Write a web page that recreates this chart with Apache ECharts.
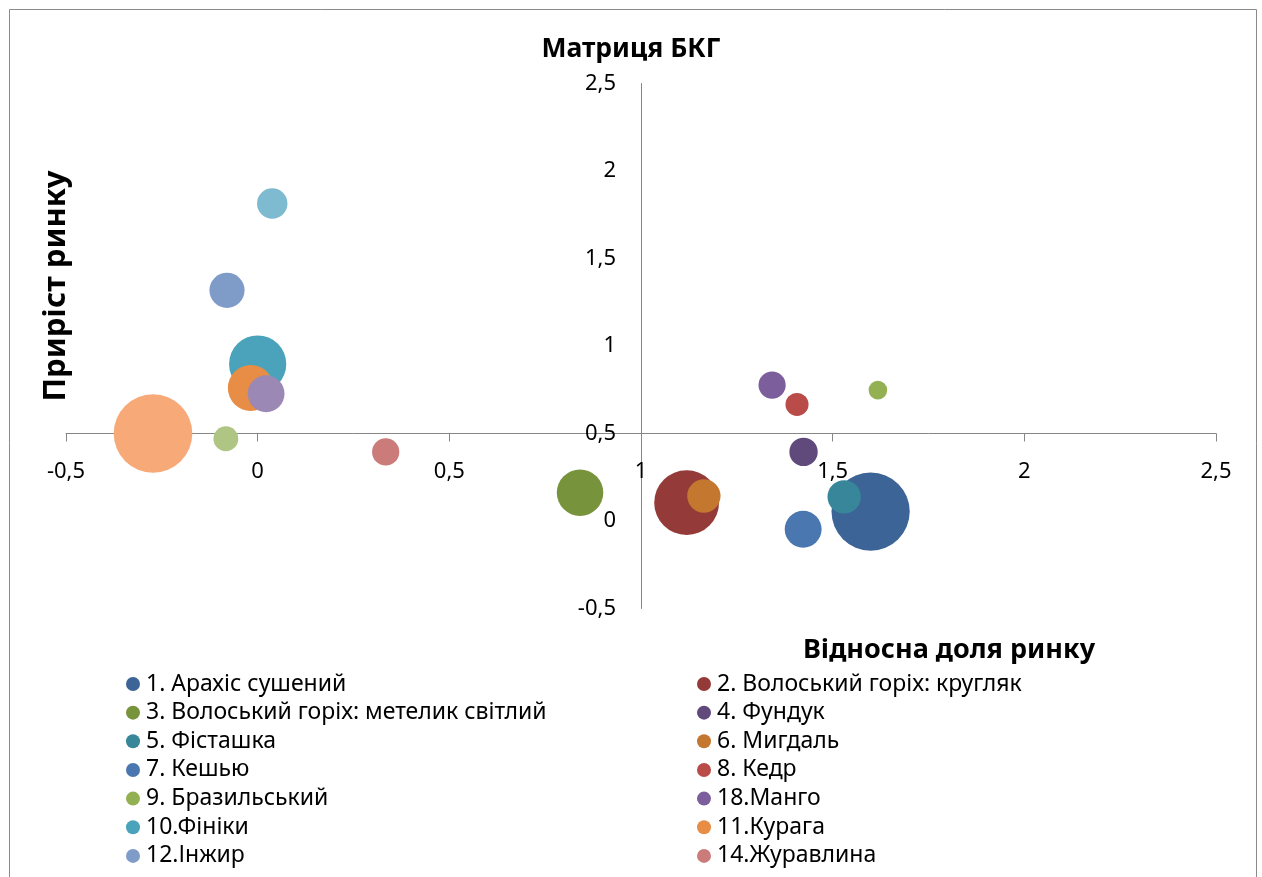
<!DOCTYPE html>
<html>
<head>
<meta charset="utf-8">
<title>Матриця БКГ</title>
<script src="https://cdn.jsdelivr.net/npm/echarts@6/dist/echarts.min.js"></script>
<style>
  html, body { margin: 0; padding: 0; background: #ffffff; }
  #chart { width: 1262px; height: 877px; }
</style>
</head>
<body>
<div id="chart"></div>
<script>
// Products of the BCG matrix (order = drawing order, later ones on top)
const productNames = [
  '1. Арахіс сушений',
  '2. Волоський горіх: кругляк',
  '3. Волоський горіх: метелик світлий',
  '4. Фундук',
  '5. Фісташка',
  '6. Мигдаль',
  '7. Кешью',
  '8. Кедр',
  '9. Бразильський',
  '18.Манго',
  '10.Фініки',
  '11.Курага',
  '12.Інжир',
  '14.Журавлина',
  '13.',
  '15.',
  '16.',
  '17.'
];

// Relative market share (x)
const marketShare = [
  1.599, 1.119, 0.841, 1.424, 1.530, 1.164, 1.423, 1.407, 1.618,
  1.342, 0.000, -0.018, -0.080, 0.334, -0.083, 0.022, 0.038, -0.273
];

// Market growth (y)
const marketGrowth = [
  0.054, 0.105, 0.162, 0.395, 0.138, 0.143, -0.047, 0.666, 0.748,
  0.777, 0.897, 0.760, 1.318, 0.395, 0.470, 0.727, 1.814, 0.500
];

// Bubble size values (sales volume, relative)
const salesVolume = [
  99, 68, 35, 13, 18, 18, 22, 8.6, 5.6,
  12, 53, 34, 20, 12, 10, 22, 15, 100
];

// Axis tick labels
const xTickLabels = ['-0,5', '0', '0,5', '1', '1,5', '2', '2,5'];
const yTickLabels = ['-0,5', '0', '0,5', '1', '1,5', '2', '2,5'];

// Legend entries shown in the two legend columns
const legendLeft  = ['1. Арахіс сушений', '3. Волоський горіх: метелик світлий', '5. Фісташка', '7. Кешью', '9. Бразильський', '10.Фініки', '12.Інжир'];
const legendRight = ['2. Волоський горіх: кругляк', '4. Фундук', '6. Мигдаль', '8. Кедр', '18.Манго', '11.Курага', '14.Журавлина'];

// ---- styling ----
const palette = [
  '#3c6496', '#943b39', '#77933c', '#604a7b', '#37869a', '#c4772f',
  '#4a77af', '#b94b48', '#93b153', '#7b5e9b', '#4aa3ba', '#e88d45',
  '#7f9cc8', '#ca7b7a', '#aec584', '#9c88b4', '#7ebbd0', '#f7aa78'
];
const FONT = '"Noto Sans", "Open Sans", sans-serif';
const AXIS_COLOR = '#868686';

const X_MIN = -0.5, X_MAX = 2.5, X_STEP = 0.5;
const Y_MIN = -0.5, Y_MAX = 2.5, Y_STEP = 0.5;
const X_CROSS = 1;    // vertical axis crosses the horizontal one here
const Y_CROSS = 0.5;  // horizontal axis crosses the vertical one here

const GRID = { left: 66, top: 83.5, width: 1150, height: 525 };
const MAX_BUBBLE = 78.6; // diameter of the largest bubble, px
const maxVolume = Math.max.apply(null, salesVolume);

// shift the axes so they cross at (X_CROSS, Y_CROSS)
const yAxisOffset = -(X_CROSS - X_MIN) / (X_MAX - X_MIN) * GRID.width;
const xAxisOffset = -(Y_CROSS - Y_MIN) / (Y_MAX - Y_MIN) * GRID.height;

const tickLabel = (labels, min, step) => v => labels[Math.round((v - min) / step)] ?? '';

const series = productNames.map((name, i) => ({
  name: name,
  type: 'scatter',
  data: [[marketShare[i], marketGrowth[i], salesVolume[i]]],
  symbol: 'circle',
  symbolSize: val => MAX_BUBBLE * Math.sqrt(val[2] / maxVolume),
  itemStyle: { color: palette[i], opacity: 1 },
  emphasis: { disabled: true },
  silent: true,
  animation: false
}));

const legendBase = {
  orient: 'vertical',
  top: 672,
  padding: 0,
  itemWidth: 14,
  itemHeight: 14,
  itemGap: 4.65,
  icon: 'circle',
  selectedMode: false,
  textStyle: { fontFamily: FONT, fontSize: 23, lineHeight: 24, color: '#000', padding: [0, 0, 0, 1] }
};

const chart = echarts.init(document.getElementById('chart'), null, { renderer: 'canvas' });
chart.setOption({
  backgroundColor: '#ffffff',
  animation: false,
  color: palette,
  title: {
    text: 'Матриця БКГ',
    left: 'center',
    top: 31,
    textStyle: { fontFamily: FONT, fontSize: 26.5, fontWeight: 'bold', color: '#000' }
  },
  grid: {
    left: GRID.left,
    top: GRID.top,
    width: GRID.width,
    height: GRID.height,
    containLabel: false
  },
  xAxis: {
    type: 'value',
    min: X_MIN,
    max: X_MAX,
    interval: X_STEP,
    position: 'bottom',
    offset: xAxisOffset,
    axisLine: { show: true, onZero: false, lineStyle: { color: AXIS_COLOR, width: 1 } },
    axisTick: { show: true, length: 8, lineStyle: { color: AXIS_COLOR, width: 1 } },
    splitLine: { show: false },
    axisLabel: {
      margin: 27,
      fontFamily: FONT,
      fontSize: 22,
      color: '#000',
      formatter: tickLabel(xTickLabels, X_MIN, X_STEP)
    }
  },
  yAxis: {
    type: 'value',
    min: Y_MIN,
    max: Y_MAX,
    interval: Y_STEP,
    position: 'left',
    offset: yAxisOffset,
    axisLine: { show: true, onZero: false, lineStyle: { color: AXIS_COLOR, width: 1 } },
    axisTick: { show: false },
    splitLine: { show: false },
    axisLabel: {
      margin: 25,
      fontFamily: FONT,
      fontSize: 22,
      color: '#000',
      formatter: tickLabel(yTickLabels, Y_MIN, Y_STEP)
    }
  },
  legend: [
    Object.assign({}, legendBase, { left: 126, data: legendLeft }),
    Object.assign({}, legendBase, { left: 697, data: legendRight })
  ],
  graphic: [
    {
      type: 'rect',
      silent: true,
      shape: { x: 9.5, y: 9.5, width: 1247, height: 1000 },
      style: { fill: 'none', stroke: '#8a8a8a', lineWidth: 1 }
    },
    {
      type: 'text',
      silent: true,
      x: 56,
      y: 286,
      rotation: Math.PI / 2,
      style: {
        text: 'Приріст ринку',
        font: 'bold 31px ' + FONT,
        fill: '#000',
        textAlign: 'center',
        textVerticalAlign: 'middle'
      }
    },
    {
      type: 'text',
      silent: true,
      x: 949,
      y: 650,
      style: {
        text: 'Відносна доля ринку',
        font: 'bold 27px ' + FONT,
        fill: '#000',
        textAlign: 'center',
        textVerticalAlign: 'middle'
      }
    }
  ],
  series: series
});
</script>
</body>
</html>
